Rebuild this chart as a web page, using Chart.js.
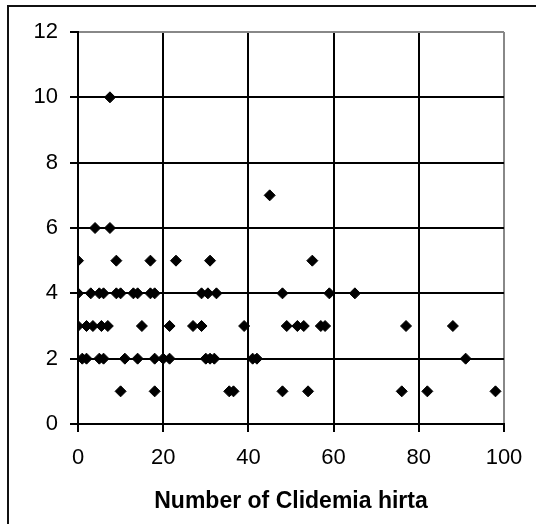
<!DOCTYPE html>
<html>
<head>
<meta charset="utf-8">
<script src="https://cdn.jsdelivr.net/npm/chart.js@4"></script>
<style>
    html, body { margin: 0; padding: 0; background: #fff; }
    #wrap { width: 536px; height: 524px; }
</style>
</head>
<body>
<div id="wrap"><canvas id="chart" width="536" height="524"></canvas></div>
<script>
// x = number of Clidemia hirta, grouped by the y value of each point
const level1 = [10, 18, 35.5, 36.5, 48, 54, 76, 82, 98];
const level2 = [1, 2, 5, 6, 11, 14, 18, 20, 21.5, 30, 31, 32, 41, 42, 91];
const level3 = [0, 2, 3.5, 5.5, 7, 15, 21.5, 27, 29, 39, 49, 51.5, 53, 57, 58, 77, 88];
const level4 = [0, 3, 5, 6, 9, 10, 13, 14, 17, 18, 29, 30.5, 32.5, 48, 59, 65];
const level5 = [0, 9, 17, 23, 31, 55];
const level6 = [4, 7.5];
const level7 = [45];
const level10 = [7.5];

const yLevels = [1, 2, 3, 4, 5, 6, 7, 10];
const xGroups = [level1, level2, level3, level4, level5, level6, level7, level10];

const xTicks = [0, 20, 40, 60, 80, 100];
const yTicks = [0, 2, 4, 6, 8, 10, 12];
const xTitle = "Number of Clidemia hirta";

const points = [];
xGroups.forEach((xs, i) => {
    xs.forEach(x => points.push({ x: x, y: yLevels[i] }));
});

// outer frame, only left and top edges show in the picture
const framePlugin = {
    id: 'frame',
    beforeDraw(chart) {
        const ctx = chart.ctx;
        ctx.save();
        ctx.fillStyle = '#fff';
        ctx.fillRect(0, 0, chart.width, chart.height);
        ctx.strokeStyle = '#111';
        ctx.lineWidth = 2;
        ctx.beginPath();
        ctx.moveTo(8, chart.height);
        ctx.lineTo(8, 6);
        ctx.lineTo(chart.width, 6);
        ctx.stroke();
        ctx.restore();
    }
};

const tickFont = { family: "'Liberation Sans', Arial, sans-serif", size: 22 };

new Chart(document.getElementById('chart'), {
    type: 'scatter',
    data: {
        datasets: [{
            data: points,
            pointStyle: 'rectRot',
            pointRadius: 5.5,
            pointBorderWidth: 1,
            backgroundColor: '#000',
            borderColor: '#000'
        }]
    },
    options: {
        responsive: false,
        animation: false,
        layout: { padding: { left: 0, top: 32, right: 32, bottom: 0 } },
        plugins: {
            legend: { display: false },
            tooltip: { enabled: false }
        },
        scales: {
            x: {
                type: 'linear',
                min: xTicks[0],
                max: xTicks[xTicks.length - 1],
                afterBuildTicks: s => { s.ticks = xTicks.map(v => ({ value: v })); },
                afterFit: s => { s.height = 100; },
                grid: {
                    color: c => (c.tick && c.tick.value === 100) ? '#888' : '#000',
                    lineWidth: 2,
                    tickLength: 8,
                    tickColor: '#000'
                },
                border: { color: '#000', width: 2 },
                ticks: { color: '#000', font: tickFont, padding: 13, maxRotation: 0 },
                title: {
                    display: true,
                    text: xTitle,
                    color: '#000',
                    font: { family: "'Liberation Sans', Arial, sans-serif", size: 23, weight: 'bold' },
                    padding: { top: 0, bottom: 9 }
                }
            },
            y: {
                type: 'linear',
                min: yTicks[0],
                max: yTicks[yTicks.length - 1],
                afterBuildTicks: s => { s.ticks = yTicks.map(v => ({ value: v })); },
                afterFit: s => { s.width = 78; },
                grid: {
                    color: c => (c.tick && c.tick.value === 12) ? '#888' : '#000',
                    lineWidth: 2,
                    tickLength: 8,
                    tickColor: '#000'
                },
                border: { color: '#000', width: 2 },
                ticks: { color: '#000', font: tickFont, padding: 12 }
            }
        }
    },
    plugins: [framePlugin]
});
</script>
</body>
</html>
